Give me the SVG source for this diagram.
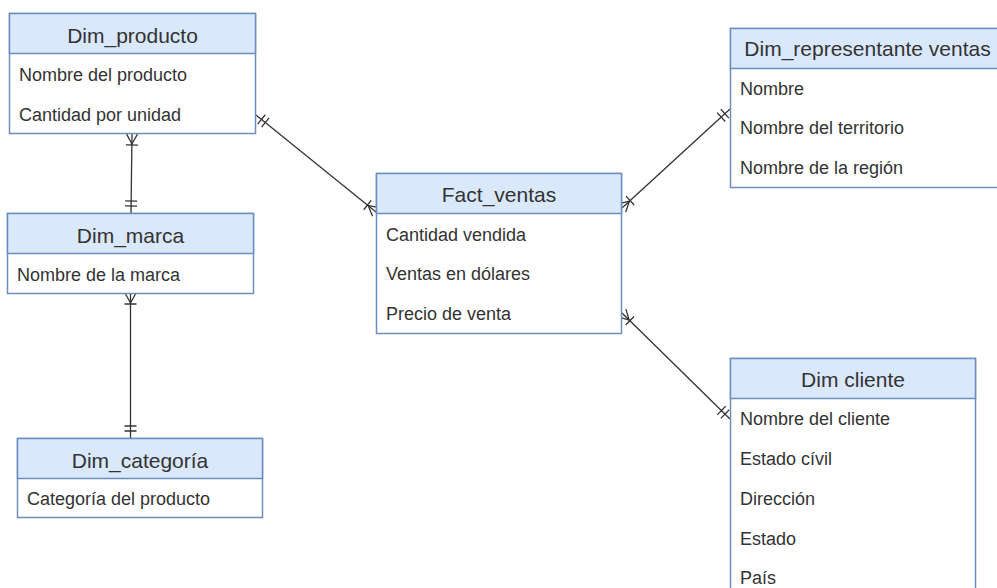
<svg xmlns="http://www.w3.org/2000/svg" width="997" height="588" viewBox="0 0 997 588">
  <style>
    .box { fill: #ffffff; stroke: #6c8ebf; stroke-width: 1.5; }
    .hdr { fill: #dae8fc; stroke: #6c8ebf; stroke-width: 1.5; }
    .title { font-family: "Liberation Sans", Arial, sans-serif; font-size: 21px; fill: #333333; text-anchor: middle; }
    .attr { font-family: "Liberation Sans", Arial, sans-serif; font-size: 18px; fill: #333333; }
    .link { fill: none; stroke: #333333; stroke-width: 1.3; }
    .mk { fill: none; stroke: #333333; stroke-width: 1.3; }
  </style>
  <defs>
    <!-- mandatory one: two bars; endpoint at origin, box lies toward +x -->
    <marker id="one" markerUnits="userSpaceOnUse" markerWidth="30" markerHeight="30" viewBox="-20 -15 30 30" refX="0" refY="0" orient="auto">
      <path class="mk" d="M-7,-6 V6 M-12,-6 V6"/>
    </marker>
    <marker id="oneS" markerUnits="userSpaceOnUse" markerWidth="30" markerHeight="30" viewBox="-20 -15 30 30" refX="0" refY="0" orient="auto-start-reverse">
      <path class="mk" d="M-7,-6 V6 M-12,-6 V6"/>
    </marker>
    <!-- one to many: crow's foot with a bar -->
    <marker id="many" markerUnits="userSpaceOnUse" markerWidth="30" markerHeight="30" viewBox="-20 -15 30 30" refX="0" refY="0" orient="auto">
      <path class="mk" d="M0,-5.5 L-10,0 L0,5.5 M-11,-6 V6"/>
    </marker>
    <marker id="manyS" markerUnits="userSpaceOnUse" markerWidth="30" markerHeight="30" viewBox="-20 -15 30 30" refX="0" refY="0" orient="auto-start-reverse">
      <path class="mk" d="M0,-5.5 L-10,0 L0,5.5 M-11,-6 V6"/>
    </marker>
  </defs>

  <!-- relationships -->
  <g id="connectors">
    <path class="link" d="M132,134 L131,213" marker-start="url(#manyS)" marker-end="url(#one)"/>
    <path class="link" d="M130.5,293 L130.5,438" marker-start="url(#manyS)" marker-end="url(#one)"/>
    <path class="link" d="M256,115 L376,212" marker-start="url(#oneS)" marker-end="url(#many)"/>
    <path class="link" d="M622,208 L730,109" marker-start="url(#manyS)" marker-end="url(#one)"/>
    <path class="link" d="M622,313 L730,419" marker-start="url(#manyS)" marker-end="url(#one)"/>
  </g>

  <g id="dim_producto">
    <rect class="box" x="9.5" y="13.5" width="246" height="120"/>
    <rect class="hdr" x="9.5" y="13.5" width="246" height="40"/>
    <text class="title" x="132.5" y="42.5">Dim_producto</text>
    <text class="attr" x="19" y="81">Nombre del producto</text>
    <text class="attr" x="19" y="121">Cantidad por unidad</text>
  </g>

  <g id="dim_marca">
    <rect class="box" x="7.5" y="213.5" width="246" height="80"/>
    <rect class="hdr" x="7.5" y="213.5" width="246" height="40"/>
    <text class="title" x="130.5" y="242.5">Dim_marca</text>
    <text class="attr" x="17" y="281">Nombre de la marca</text>
  </g>

  <g id="dim_categoria">
    <rect class="box" x="17.5" y="438.5" width="245" height="79"/>
    <rect class="hdr" x="17.5" y="438.5" width="245" height="40"/>
    <text class="title" x="140" y="467.5">Dim_categoría</text>
    <text class="attr" x="27" y="505">Categoría del producto</text>
  </g>

  <g id="fact_ventas">
    <rect class="box" x="376.5" y="173.5" width="245" height="160"/>
    <rect class="hdr" x="376.5" y="173.5" width="245" height="40"/>
    <text class="title" x="499" y="202">Fact_ventas</text>
    <text class="attr" x="386" y="241">Cantidad vendida</text>
    <text class="attr" x="386" y="280">Ventas en dólares</text>
    <text class="attr" x="386" y="320">Precio de venta</text>
  </g>

  <g id="dim_representante_ventas">
    <rect class="box" x="730.5" y="28.5" width="276" height="159"/>
    <rect class="hdr" x="730.5" y="28.5" width="276" height="40"/>
    <text class="title" x="867.5" y="56">Dim_representante ventas</text>
    <text class="attr" x="740" y="95">Nombre</text>
    <text class="attr" x="740" y="134">Nombre del territorio</text>
    <text class="attr" x="740" y="174">Nombre de la región</text>
  </g>

  <g id="dim_cliente">
    <rect class="box" x="730.5" y="358.5" width="245" height="240"/>
    <rect class="hdr" x="730.5" y="358.5" width="245" height="40"/>
    <text class="title" x="853" y="387">Dim cliente</text>
    <text class="attr" x="740" y="425">Nombre del cliente</text>
    <text class="attr" x="740" y="465">Estado cívil</text>
    <text class="attr" x="740" y="505">Dirección</text>
    <text class="attr" x="740" y="545">Estado</text>
    <text class="attr" x="740" y="584">País</text>
  </g>
</svg>
